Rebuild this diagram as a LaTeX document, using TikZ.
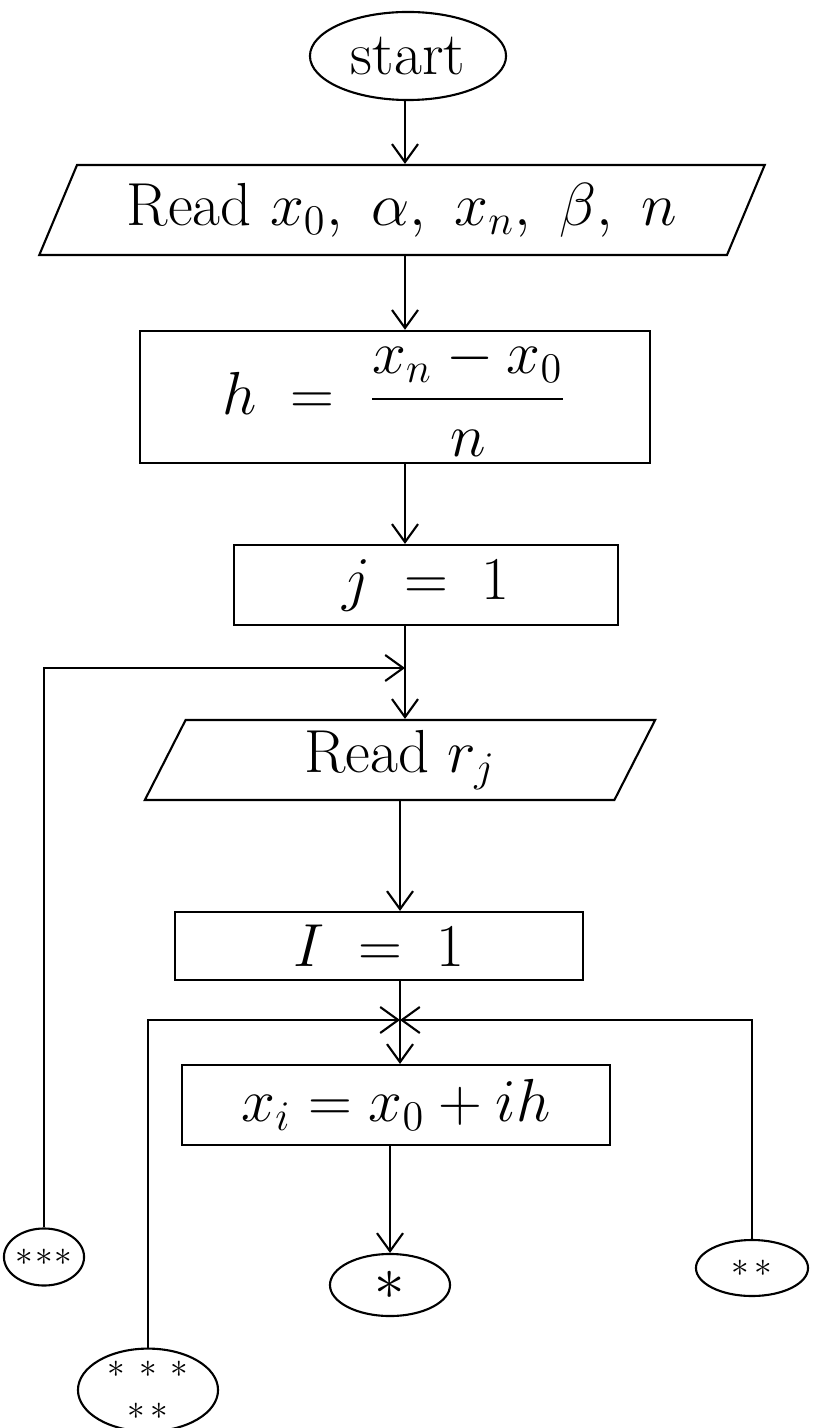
\documentclass[tikz,border=0pt]{standalone}
\usepackage{amsmath, amssymb}
\usepackage{tikz}
\usetikzlibrary{shapes.geometric,arrows.meta,positioning,calc}

\begin{document}
\begin{tikzpicture}[
    x=0.01cm, y=-0.01cm,
    font=\LARGE,
    terminal/.style={ellipse, draw, semithick, minimum width=1.96cm, minimum height=0.88cm, inner sep=1pt},
    io/.style={trapezium, draw, semithick, trapezium left angle=61, trapezium right angle=119,
               trapezium stretches body, inner sep=2pt},
    process/.style={rectangle, draw, semithick, inner sep=2pt},
    connector/.style={ellipse, draw, semithick, inner sep=0pt, align=center, font=\normalsize},
    arrow/.style={-{Straight Barb[length=1.8mm,width=2.6mm]}, semithick}
]
\useasboundingbox (0,0) rectangle (815,1428);

\node[terminal] (start) at (408,56) {start};
\node[io, minimum width=7.25cm, minimum height=0.9cm] (rdata) at (402,210) {Read $x_0,\ \alpha,\ x_n,\ \beta,\ n$};
\node[process, minimum width=5.1cm, minimum height=1.05cm] (hstep) at (395,397) {$h \;=\; \dfrac{x_n - x_0}{n}$};
\node[process, minimum width=3.83cm, minimum height=0.8cm] (jinit) at (426,585) {$j \;=\; 1$};
\node[io, minimum width=5.1cm, minimum height=0.8cm] (rrj) at (400,760) {Read $r_j$};
\node[process, minimum width=4.08cm, minimum height=0.68cm] (iinit) at (379,946) {$I \;=\; 1$};
\node[process, minimum width=4.28cm, minimum height=0.8cm] (xcalc) at (396,1105) {$x_i = x_0 + ih$};

% off-page connectors
\node[connector, minimum width=1.2cm, minimum height=0.62cm, font=\LARGE] (conA) at (390,1285) {$*$};
\node[connector, minimum width=1.12cm, minimum height=0.56cm] (conB) at (752,1268) {$*\,*$};
\node[connector, minimum width=0.7cm, minimum height=0.57cm] (conC) at (44,1257) {$*\!*\!*$};
\node[connector, minimum width=1.4cm, minimum height=0.74cm] (conD) at (148,1390) {$*\,*\,*$\\$*\,*$};

\coordinate (jloop) at (405,668);
\coordinate (merge) at (400,1020);

\draw[arrow] (start.south -| 405,0) -- (rdata.north -| 405,0);
\draw[arrow] (rdata.south -| 405,0) -- (hstep.north -| 405,0);
\draw[arrow] (hstep.south -| 405,0) -- (jinit.north -| 405,0);
\draw[arrow] (jinit.south -| jloop) -- (rrj.north -| jloop);
\draw[arrow] (conC.north) |- (jloop);
\draw[arrow] (rrj.south -| merge) -- (iinit.north -| merge);
\draw[arrow] (iinit.south -| merge) -- (xcalc.north -| merge);
\draw[arrow] (conD.north) |- (merge);
\draw[arrow] (conB.north) |- (merge);
\draw[arrow] (xcalc.south -| conA) -- (conA);
\end{tikzpicture}
\end{document}
